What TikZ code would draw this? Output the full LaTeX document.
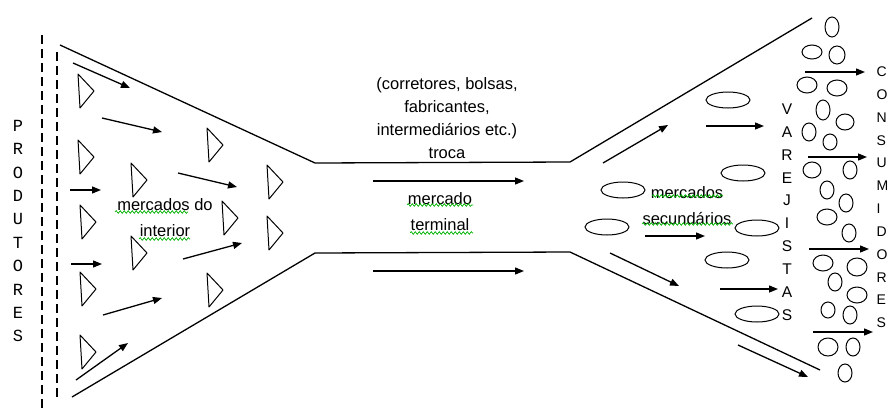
\documentclass[tikz,border=0pt]{standalone}
\usepackage{fontspec}
\setmainfont{Liberation Sans}
\newfontfamily\prodfont{Liberation Mono}
\usepackage{tikz}
\usetikzlibrary{arrows.meta, decorations.pathmorphing, shapes.geometric}
\tikzstyle{funnel} = [line width=1.3pt]
\tikzstyle{arrow} = [line width=1.3pt,-{Triangle[length=9pt,width=7pt]}]
\tikzstyle{mkt} = [line width=1pt, line join=round]
\tikzstyle{secmkt} = [ellipse, draw, line width=1pt, minimum width=44pt, minimum height=16pt, inner sep=0pt]
\tikzstyle{cons} = [line width=1pt]
\tikzstyle{txt} = [align=center, inner sep=0pt, font=\fontsize{16.5}{26}\selectfont]
\tikzstyle{vletter} = [inner sep=0pt, font=\fontsize{15.5}{18}\selectfont]
\tikzstyle{spell} = [draw=green!70!black, line width=0.7pt, decorate, decoration={snake, amplitude=1.3pt, segment length=4pt}]

\begin{document}
\begin{tikzpicture}[x=1pt, y=-1pt]
\useasboundingbox (0,0) rectangle (890,410);
\fill[white] (0,0) rectangle (890,410);
\clip (0,0) rectangle (890,410);

% produtores
\draw[line width=1.1pt, dash pattern=on 9pt off 5pt] (42,35) -- (42,408);
\draw[line width=1.1pt, dash pattern=on 9pt off 5pt] (57,52) -- (57,400);
\foreach \l [count=\i] in {P,R,O,D,U,T,O,R,E,S}
  \node (prod\i) [vletter, font=\prodfont\fontsize{17}{18}\selectfont] at (18,125.7+23.4*\i-23.4) {\l};

% funil
\draw[funnel] (60,45) -- (315,163) -- (570,162) -- (812,18);
\draw[funnel] (72,397) -- (315,253) -- (570,252) -- (820,370);

% mercados do interior
\foreach \x/\y in {78/91, 78/157, 131/180, 207/145, 267/182, 80/222, 222/218,
                   267/233, 131/253, 80/289, 207/290, 80/352}
  \draw[mkt] (\x,\y-17) -- (\x+16,\y) -- (\x+2,\y+17) -- cycle;
\draw[arrow] (73,63) -- (130,88);
\draw[arrow] (102,118) -- (162,132);
\draw[arrow] (70,190) -- (101,190);
\draw[arrow] (178,173) -- (237,187);
\draw[arrow] (183,259) -- (242,243);
\draw[arrow] (71,264) -- (102,264);
\draw[arrow] (103,315) -- (162,298);
\draw[arrow] (76,380) -- (128,343);
\node (interior) [txt] at (165,218) {mercados do\\interior};
\draw[spell] (115,212) -- (188,212);
\draw[spell] (139,239) -- (190,239);

% mercado terminal
\node (troca) [txt, font=\fontsize{16.5}{23}\selectfont] at (447,118) {(corretores, bolsas,\\fabricantes,\\intermediários etc.)\\troca};
\draw[arrow] (373,181) -- (524,181);
\node (terminal) [txt] at (440,212) {mercado\\terminal};
\draw[spell] (407,205) -- (473,205);
\draw[spell] (410,233) -- (473,233);
\draw[arrow] (373,271) -- (524,271);

% mercados secundarios
\foreach \x/\y [count=\i] in {728/100, 743/173, 623/190, 607/227, 757/228, 727/260, 757/314}
  \node (sec\i) [secmkt] at (\x,\y) {};
\draw[arrow] (603,163) -- (668,125);
\draw[arrow] (706,126) -- (764,126);
\draw[arrow] (645,236) -- (705,236);
\draw[arrow] (610,253) -- (679,286);
\draw[arrow] (720,289) -- (778,289);
\draw[arrow] (738,345) -- (808,377);
\node (secund) [txt] at (687,206) {mercados\\secundários};
\draw[spell] (652,196) -- (723,196);
\draw[spell] (642,224) -- (733,224);

% varejistas
\foreach \l [count=\i] in {V,A,R,E,J,I,S,T,A,S}
  \node (var\i) [vletter] at (787,109+22.9*\i-22.9) {\l};

% consumidores
\foreach \x/\y/\a/\b in {832/27/7/10, 812/52/10/7, 837/55/8/9, 807/85/10/8, 837/88/10/8,
                         823/110/7/10, 845/122/9/8, 809/132/7/9, 830/142/7/8, 812/170/9/8,
                         850/170/7/9, 827/190/7/9, 846/203/7/9, 827/217/10/8, 849/233/7/9,
                         823/263/10/8, 857/267/10/9, 835/282/7/9, 857/295/10/8, 828/310/7/8,
                         850/315/7/9, 828/347/10/9, 853/347/7/9, 845/373/7/9}
  \draw[cons] (\x,\y) ellipse [x radius=\a pt, y radius=\b pt];
\draw[arrow] (805,72) -- (865,72);
\draw[arrow] (808,157) -- (867,157);
\draw[arrow] (809,249) -- (869,249);
\draw[arrow] (813,332) -- (873,332);
\foreach \l [count=\i] in {C,O,N,S,U,M,I,D,O,R,E,S}
  \node (cons\i) [vletter, anchor=west, font=\fontsize{14}{16}\selectfont] at (876.5,72+22.8*\i-22.8) {\l};
\end{tikzpicture}
\end{document}
